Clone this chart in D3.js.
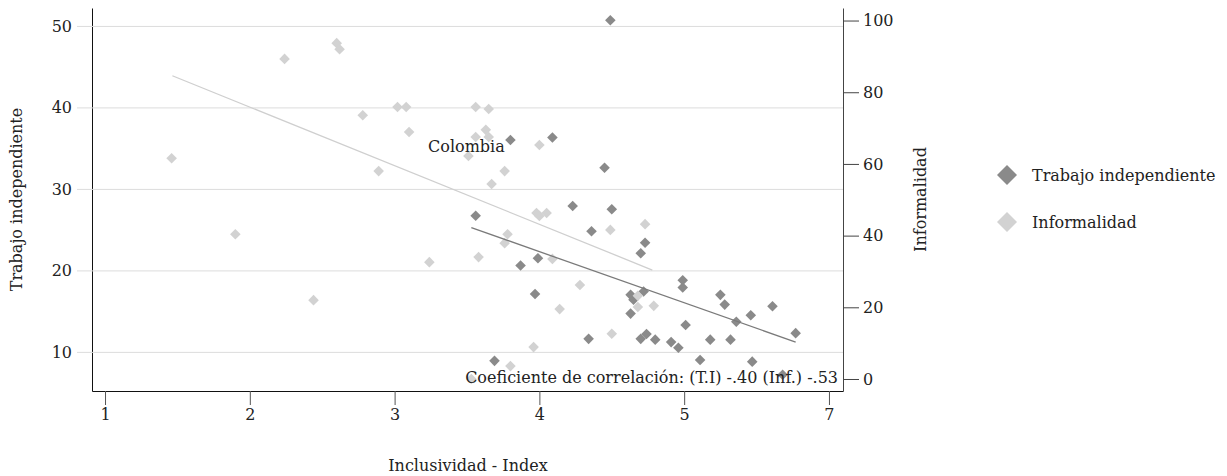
<!DOCTYPE html>
<html>
<head>
<meta charset="utf-8">
<script src="https://cdn.jsdelivr.net/npm/d3@7"></script>
<style>
  body { margin: 0; background: #fff; }
  text { font-family: "DejaVu Serif", serif; fill: #222; }
</style>
</head>
<body>
<div id="container"></div>
<script>
/**
 * CONSTANTS AND GLOBALS
 * */
const width = 1227,
    height = 476,
    margin = { top: 8, left: 92, right: 384, bottom: 85 };
const plotW = width - margin.left - margin.right,
    plotH = height - margin.top - margin.bottom;
const fontFam = "DejaVu Serif",
    fontSize = 16;

// Trabajo independiente (left axis)
const indepX = [4.49, 3.80, 4.09, 4.45, 3.56, 4.23, 4.50, 4.36, 4.73, 4.70, 3.99, 3.87, 4.99, 4.99, 3.97,
    4.63, 4.65, 4.72, 5.25, 5.28, 5.61, 5.46, 5.36, 4.63, 5.01, 5.77, 4.74, 4.70, 4.80, 4.34,
    4.91, 4.96, 5.18, 5.32, 3.69, 5.11, 5.47, 5.68];
const indepY = [50.7, 36.0, 36.3, 32.6, 26.7, 27.9, 27.5, 24.8, 23.4, 22.1, 21.5, 20.6, 18.8, 17.9, 17.1,
    17.0, 16.4, 17.4, 17.0, 15.8, 15.6, 14.5, 13.7, 14.7, 13.3, 12.3, 12.2, 11.6, 11.5, 11.6,
    11.2, 10.5, 11.5, 11.5, 8.9, 9.0, 8.8, 7.2];

// Informalidad (right axis)
const informX = [1.46, 1.90, 2.24, 2.44, 2.60, 2.62, 2.78, 2.89, 3.02, 3.08, 3.10, 3.24, 3.51, 3.56,
    3.65, 3.56, 3.63, 3.65, 3.67, 3.76, 3.58, 3.78, 3.76, 3.98, 4.00, 4.05, 4.00, 4.09,
    4.28, 4.14, 4.49, 4.73, 4.50, 4.68, 4.68, 4.79, 3.96, 3.80, 3.53];
const informY = [61.6, 40.4, 89.3, 22.0, 93.7, 92.0, 73.6, 58.0, 75.9, 75.9, 68.9, 32.6, 62.2, 75.9,
    75.3, 67.5, 69.5, 67.5, 54.4, 58.0, 34.0, 40.4, 37.9, 46.3, 45.5, 46.3, 65.3, 33.5,
    26.2, 19.5, 41.6, 43.2, 12.6, 23.2, 20.1, 20.4, 8.9, 3.6, 0.0];

// fitted lines
const indepFitX = [3.53, 5.77],
    indepFitY = [25.25, 11.2];
const informFitX = [1.465, 4.78],
    informFitY = [84.6, 30.4];

const xTicks = [1, 2, 3, 4, 5, 6],
    xTickLabels = ["1", "2", "3", "4", "5", "7"];
const leftTicks = [10, 20, 30, 40, 50],
    rightTicks = [0, 20, 40, 60, 80, 100];

const seriesNames = ["Trabajo independiente", "Informalidad"];
const darkColor = "#8a8a8a",
    lightColor = "#d2d2d2";

/* SVG AND CONTAINERS */
const svg = d3.select("#container")
    .append("svg")
    .attr("width", width)
    .attr("height", height);

const g = svg.append("g")
    .attr("transform", `translate(${margin.left},${margin.top})`);

const xScale = d3.scaleLinear().domain([0.91, 6.097]).range([0, plotW]);
const yLeft = d3.scaleLinear().domain([5.2, 52.2]).range([plotH, 0]);
const yRight = d3.scaleLinear().domain([-3.35, 103.5]).range([plotH, 0]);

// left axis + grid
const leftAxis = g.append("g")
    .call(d3.axisLeft(yLeft).tickValues(leftTicks).tickSize(15).tickSizeOuter(0).tickPadding(5));
leftAxis.selectAll(".tick line").attr("x1", plotW).attr("stroke", "#dcdcdc");
leftAxis.select(".domain").attr("stroke", "#111");

// bottom axis
const bottomAxis = g.append("g")
    .attr("transform", `translate(0,${plotH})`)
    .call(d3.axisBottom(xScale).tickValues(xTicks).tickFormat((d, i) => xTickLabels[i])
        .tickSize(14).tickSizeOuter(0).tickPadding(4));
bottomAxis.select(".domain").attr("stroke", "#111");
bottomAxis.selectAll(".tick line").attr("stroke", "#555");

// right axis
const rightAxis = g.append("g")
    .attr("transform", `translate(${plotW},0)`)
    .call(d3.axisRight(yRight).tickValues(rightTicks).tickSize(16).tickSizeOuter(0).tickPadding(4));
rightAxis.select(".domain").attr("stroke", "#444");
rightAxis.selectAll(".tick line").attr("stroke", "#444");

g.selectAll(".tick text")
    .attr("font-size", fontSize)
    .attr("font-family", fontFam)
    .attr("fill", "#222");

// points
const diamond = d3.symbol().type(d3.symbolSquare).size(56);

g.selectAll("path.indep")
    .data(d3.range(indepX.length))
    .join("path")
    .attr("class", "indep")
    .attr("d", diamond)
    .attr("transform", i => `translate(${xScale(indepX[i])},${yLeft(indepY[i])}) rotate(45)`)
    .attr("fill", darkColor);

g.selectAll("path.inform")
    .data(d3.range(informX.length))
    .join("path")
    .attr("class", "inform")
    .attr("d", diamond)
    .attr("transform", i => `translate(${xScale(informX[i])},${yRight(informY[i])}) rotate(45)`)
    .attr("fill", lightColor);

// fit lines
const lineGen = (xs, ys, yS) => d3.line()
    .x(i => xScale(xs[i]))
    .y(i => yS(ys[i]))(d3.range(xs.length));

g.append("path")
    .attr("d", lineGen(informFitX, informFitY, yRight))
    .attr("fill", "none")
    .attr("stroke", "#cfcfcf")
    .attr("stroke-width", 1.3);

g.append("path")
    .attr("d", lineGen(indepFitX, indepFitY, yLeft))
    .attr("fill", "none")
    .attr("stroke", "#7a7a7a")
    .attr("stroke-width", 1.3);

// annotations
g.append("text")
    .attr("x", 336)
    .attr("y", 144)
    .attr("font-size", fontSize)
    .text("Colombia");

g.append("text")
    .attr("x", plotW - 5)
    .attr("y", 375)
    .attr("text-anchor", "end")
    .attr("font-size", fontSize)
    .text("Coeficiente de correlación: (T.I) -.40 (Inf.) -.53");

// axis titles
svg.append("text")
    .attr("transform", `translate(22,${margin.top + plotH / 2}) rotate(-90)`)
    .attr("text-anchor", "middle")
    .attr("font-size", fontSize)
    .text("Trabajo independiente");

svg.append("text")
    .attr("transform", `translate(926,${margin.top + plotH / 2}) rotate(-90)`)
    .attr("text-anchor", "middle")
    .attr("font-size", fontSize)
    .text("Informalidad");

svg.append("text")
    .attr("x", 468)
    .attr("y", 471)
    .attr("text-anchor", "middle")
    .attr("font-size", fontSize)
    .text("Inclusividad - Index");

// legend
const legend = svg.append("g").attr("transform", "translate(1007,175)");
const legendSym = d3.symbol().type(d3.symbolSquare).size(200);
legend.selectAll("path")
    .data(seriesNames)
    .join("path")
    .attr("d", legendSym)
    .attr("transform", (d, i) => `translate(0,${i * 47}) rotate(45)`)
    .attr("fill", (d, i) => i === 0 ? darkColor : lightColor);
legend.selectAll("text")
    .data(seriesNames)
    .join("text")
    .attr("x", 25)
    .attr("y", (d, i) => i * 47 + 6)
    .attr("font-size", fontSize)
    .text(d => d);
</script>
</body>
</html>
